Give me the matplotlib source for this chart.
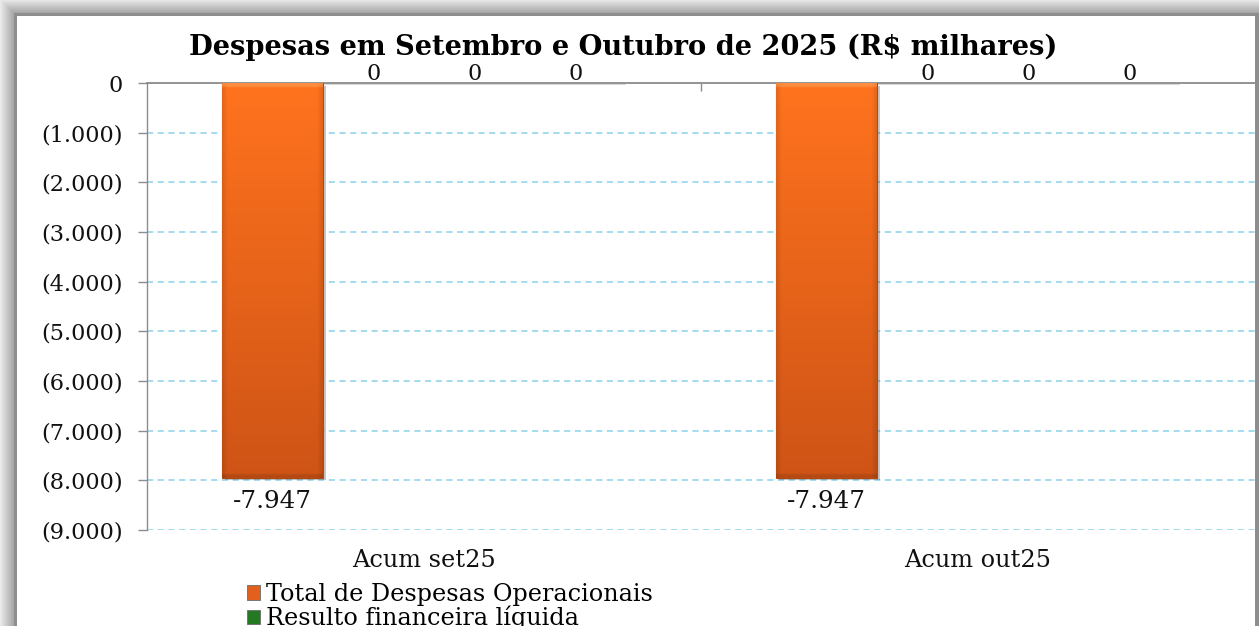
import numpy as np
import matplotlib
matplotlib.use("Agg")
import matplotlib.pyplot as plt
from matplotlib.patches import Patch
from matplotlib.ticker import FuncFormatter, FixedLocator
from matplotlib.font_manager import FontProperties
import matplotlib.patheffects as pe

# ---------------- data ----------------
categories = ["Acum set25", "Acum out25"]
series_names = ["Total de Despesas Operacionais", "Resulto financeira líquida", "_s3", "_s4"]
total_despesas = [-7947, -7947]
resultado_financeiro = [0, 0]
serie_3 = [0, 0]
serie_4 = [0, 0]
y_ticks = [0, -1000, -2000, -3000, -4000, -5000, -6000, -7000, -8000, -9000]
title = "Despesas em Setembro e Outubro de 2025 (R$ milhares)"

series = [total_despesas, resultado_financeiro, serie_3, serie_4]

# ---------------- figure ----------------
W, H, DPI = 1259, 626, 100
fig = plt.figure(figsize=(W / DPI, H / DPI), dpi=DPI)
fig.patch.set_facecolor("white")
renderer = fig.canvas.get_renderer()

# background frame with grey shadow
ys = np.arange(H)[:, None].astype(float) * np.ones((1, W))
xs = np.arange(W)[None, :].astype(float) * np.ones((H, 1))
d = np.maximum(np.maximum(13 - ys, 14 - xs), 0)
outside = (ys < 13) | (xs < 14)
val = np.where(outside, 0.64 + 0.28 * np.clip(d / 14, 0, 1), 1.0)
frame = np.zeros((H, W), bool)
frame[13:16, 14:] = True
frame[13:, 14:17] = True
frame[13:, 1255:] = True
val[frame] = 0.56
bg = np.dstack([val, val, val])
fig.figimage(bg, xo=0, yo=0, origin="upper", zorder=-10)


def text_width(s, **kw):
    t = fig.text(0, 0, s, **kw)
    w = t.get_window_extent(renderer).width
    t.remove()
    return w


def fit_size(s, target, size0=20, **kw):
    w = text_width(s, fontsize=size0, **kw)
    return size0 * target / w


FONT = "DejaVu Serif"

# axes
ax = fig.add_axes([147 / W, (H - 530) / H, 1108 / W, (530 - 83) / H])
ax.set_facecolor("none")

x = np.arange(len(categories))
width = 101 / 554
offsets = (np.arange(len(series)) - (len(series) - 1) / 2) * width
face_colors = ["#E2601C", "#237A23", "#4F81BD", "#9BBB59"]

ax.set_xlim(-0.5, len(categories) - 0.5)
ax.set_ylim(min(y_ticks), max(y_ticks))

# gradient image for the orange bars
nrow, ncol = 200, 60
tc = np.array([255, 115, 30]) / 255
bc = np.array([206, 84, 22]) / 255
t_ = np.linspace(0, 1, nrow)[:, None, None]
grad = tc * (1 - t_) + bc * t_
grad = np.repeat(grad, ncol, axis=1)
u = np.linspace(0, 1, ncol)
edge = np.clip(1 - np.minimum(u, 1 - u) / 0.05, 0, 1) * 0.10
grad = grad * (1 - edge[None, :, None])
grad[:2] = grad[:2] * 0.7 + 0.3 * np.array([1, 0.8, 0.55])
grad[-2:] *= 0.88

tick_size = fit_size("(1.000)", 82, family=FONT)
lab_size = fit_size("-7.947", 79, family=FONT)

for i, vals in enumerate(series):
    if i == 0:
        bars = ax.bar(x + offsets[i], vals, width, color=face_colors[i],
                      edgecolor="#B04A12", linewidth=0.8, zorder=3,
                      path_effects=[pe.SimplePatchShadow(offset=(2, -2), shadow_rgbFace="k", alpha=0.22), pe.Normal()])
        for b in bars:
            x0, y0 = b.get_x(), b.get_y()
            im = ax.imshow(grad, extent=(x0, x0 + b.get_width(), y0 + b.get_height(), y0),
                           aspect="auto", origin="upper", zorder=3.1, interpolation="bilinear")
            im.set_clip_path(b)
        for b, v in zip(bars, vals):
            ax.annotate(f"{v:,.0f}".replace(",", "."), (b.get_x() + b.get_width() / 2, v),
                        xytext=(0, -9), textcoords="offset points", ha="center", va="top",
                        family=FONT, fontsize=lab_size, color="#111111")
    else:
        bars = ax.bar(x + offsets[i], vals, width, color=face_colors[i],
                      edgecolor="#dcdcdc", linewidth=3, zorder=2)
        for b, v in zip(bars, vals):
            ax.annotate(f"{v:,.0f}".replace(",", "."), (b.get_x() + b.get_width() / 2, v),
                        xytext=(0, 2.5), textcoords="offset points", ha="center", va="baseline",
                        family=FONT, fontsize=tick_size, color="#111111")

ax.set_xlim(-0.5, len(categories) - 0.5)
ax.set_ylim(min(y_ticks), max(y_ticks))

# y axis
ax.set_yticks(y_ticks)
ax.yaxis.set_major_formatter(FuncFormatter(
    lambda v, p: "0" if v == 0 else (f"({abs(v):,.0f})".replace(",", ".") if v < 0 else f"{v:,.0f}".replace(",", "."))))
ax.tick_params(axis="y", length=6.5, width=1, color="#8c8c8c", pad=11, labelsize=tick_size, labelcolor="#111111")
for t in ax.get_yticklabels():
    t.set_family(FONT)
ax.yaxis.grid(True, color="#8cd2ec", linestyle=(0, (4, 3)), linewidth=1.1, zorder=0)
ax.set_axisbelow(True)

# x axis
cat_size = fit_size(categories[0], 143, family=FONT)
ax.set_xticks(x, categories)
ax.tick_params(axis="x", which="major", length=0, pad=14, labelsize=cat_size, labelcolor="#111111")
for t in ax.get_xticklabels():
    t.set_family(FONT)
ax.xaxis.set_minor_locator(FixedLocator((x[:-1] + 0.5).tolist()))
ax.tick_params(axis="x", which="minor", top=True, bottom=False, direction="in", length=6,
               width=1, color="#8c8c8c")

for s in ["right", "bottom"]:
    ax.spines[s].set_visible(False)
ax.spines["top"].set_color("#8c8c8c")
ax.spines["top"].set_linewidth(1.3)
ax.spines["left"].set_color("#8c8c8c")
ax.spines["left"].set_linewidth(1)

# title
title_size = fit_size(title, 870, family=FONT, fontweight="bold")
fig.text(623 / W, 1 - 55 / H, title, ha="center", va="baseline", family=FONT,
         fontweight="bold", fontsize=title_size, color="#000000")

# legend
leg_size = fit_size(series_names[0], 384, family=FONT)
em = leg_size * DPI / 72
handles = [Patch(facecolor=face_colors[i], edgecolor="#6b6b6b", linewidth=0.6)
           for i in range(len(series)) if not series_names[i].startswith("_")]
labels = [n for n in series_names if not n.startswith("_")]
fig.legend(handles, labels, loc="upper left", bbox_to_anchor=(247 / W, 1 - 583 / H),
           frameon=False, borderpad=0, borderaxespad=0, handlelength=13 / em,
           handleheight=13 / em, handletextpad=6 / em, labelspacing=0.0,
           prop=FontProperties(family=FONT, size=leg_size))

fig.savefig("out.png", dpi=DPI)
